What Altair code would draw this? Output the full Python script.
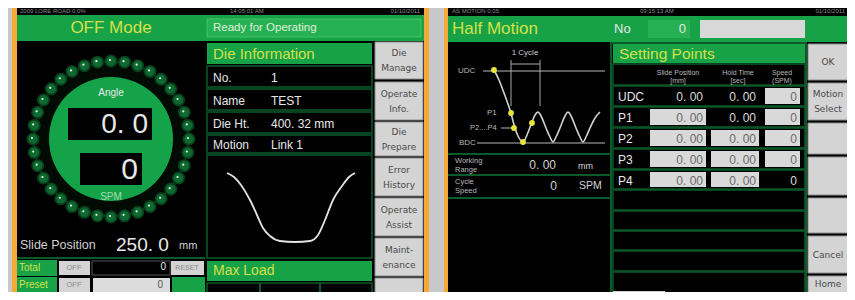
import math
import altair as alt
import pandas as pd

# ---------------- values read from the two screens ----------------
mode_title = "OFF Mode"
status_msg = "Ready for Operating"
angle_label = "Angle"
angle_value = "0. 0"
spm_value = "0"
spm_label = "SPM"
slide_label = "Slide Position"
slide_position_value = "250. 0"
slide_unit = "mm"
total_value = "0"
preset_value = "0"

die_header = "Die Information"
die_info_labels = ["No.", "Name", "Die Ht.", "Motion"]
die_info_values = ["1", "TEST", "400. 32  mm", "Link 1"]
max_load_header = "Max  Load"
left_buttons = ["Die\nManage", "Operate\nInfo.", "Die\nPrepare", "Error\nHistory",
                "Operate\nAssist", "Maint-\nenance", ""]

# die motion curve (screen pixels)
die_curve_x = [227, 234, 241, 250, 257, 263, 270, 280, 295, 310, 318, 325, 333, 342, 349, 355]
die_curve_y = [173, 177, 185, 200, 215, 228, 236, 241, 242, 241, 235, 220, 200, 186, 177, 173]

motion_title = "Half Motion"
motion_no_label = "No"
motion_no = "0"
table_header = "Setting Points"
column_heads = ["Slide Position\n[mm]", "Hold Time\n[sec]", "Speed\n(SPM)"]
point_names = ["UDC", "P1", "P2", "P3", "P4"]
slide_pos = ["0. 00", "0. 00", "0. 00", "0. 00", "0. 00"]
hold_time = ["0. 00", "0. 00", "0. 00", "0. 00", "0. 00"]
speed_spm = ["0", "0", "0", "0", "0"]
slide_boxed = [False, True, True, True, True]
hold_boxed = [False, False, True, True, True]
speed_boxed = [True, True, True, True, False]
right_buttons = ["OK", "Motion\nSelect", "", "", "", "Cancel", "Home"]
working_range = "0. 00"
cycle_speed = "0"

# half-motion wave (screen pixels)
wave_x = [494, 499, 504, 508, 511, 513, 515, 518, 523, 527, 532, 535, 538, 541, 546, 550,
          553, 556, 560, 565, 568, 571, 576, 580, 583, 586, 590, 595, 600]
wave_y = [70, 80, 93, 104, 113, 121, 128, 136, 142, 135, 122, 115, 112, 116, 128, 137,
          142, 137, 128, 116, 112, 116, 128, 137, 142, 137, 128, 118, 112]
marker_x = [494, 511, 514, 523, 532]
marker_y = [70, 113, 128, 142, 123]
wave_labels = ["UDC", "P1", "P2....P4", "BDC"]

ring_dot_angles = list(range(0, 360, 10))

# ---------------- styling ----------------
BG = "#c6c8c9"
ORANGE = "#f6a935"
BLACK = "#000000"
GREEN = "#17a247"
GREEN2 = "#27b155"
DKG = "#0b5b2a"
BTN = "#d4d4d4"
BTN_EDGE = "#8e8e8e"
YEL = "#d4e04a"
WHT = "#e8e8e8"
GRY = "#b8b8b8"
BTX = "#4a4a4a"
SANS = "Liberation Sans"
WIDE = "DejaVu Sans"

rects, rects2, texts, rules = [], [], [], []


def R(lst, x1, y1, x2, y2, fill, stroke="transparent", sw=0):
    lst.append(dict(x=x1, y=y1, x2=x2, y2=y2, fill=fill, stroke=stroke, sw=sw))


def T(x, y, text, color=WHT, size=12, align="left", font=SANS, lh=12):
    # centre multi-line blocks vertically on y
    y = y - lh * text.count("\n") / 2
    texts.append(dict(x=x, y=y, text=text, color=color, size=size, align=align, font=font, lh=lh))


def L(x1, y1, x2, y2, color=DKG, w=2):
    rules.append(dict(x=x1, y=y1, x2=x2, y2=y2, color=color, w=w))


# ---- left screen ----
R(rects, 12, 0, 429, 300, ORANGE)
R(rects, 17, 7, 424, 293, BLACK)
R(rects, 17, 15, 424, 41, GREEN)
R(rects, 207, 19, 421, 37, GREEN2, "#45c068", 1)
T(111, 28, mode_title, YEL, 17, "center")
T(213, 28, status_msg, "#e0eed8", 11.5)
T(20, 11, "2009 LORE ROAD 0.0%", "#8a8a8a", 6)
T(230, 11, "14:05:01 AM", "#8a8a8a", 6)
T(420, 11, "01/10/2011", "#8a8a8a", 6, "right")

R(rects, 207, 43, 372, 64, GREEN)
T(213, 54, die_header, YEL, 15)
die_rows = [(66, 87), (89, 110), (112, 133), (135, 153)]
for (y1, y2), lab, val in zip(die_rows, die_info_labels, die_info_values):
    R(rects, 207, y1, 372, y2, BLACK, DKG, 1.5)
    T(213, (y1 + y2) / 2 + 1, lab, WHT, 12)
    T(271, (y1 + y2) / 2 + 1, val, WHT, 12)
R(rects, 207, 155, 372, 258, BLACK, DKG, 1.5)
R(rects, 207, 261, 372, 281, GREEN)
T(213, 271, max_load_header, YEL, 14)
R(rects, 207, 283, 372, 300, BLACK, DKG, 1.5)
L(260, 283, 260, 300)
L(320, 283, 320, 300)

lb_rows = [(42, 79), (82, 120), (122, 156), (158, 196), (198, 236), (238, 276), (278, 300)]
for (y1, y2), lab in zip(lb_rows, left_buttons):
    R(rects, 375, y1, 423, y2, BTN, BTN_EDGE, 1)
    T(399, (y1 + y2) / 2, lab, BTX, 9, "center", WIDE, 15)

L(17, 258, 205, 258)
R(rects, 17, 260, 57, 276, GREEN)
R(rects, 59, 261, 90, 275, BTN)
R(rects, 92, 261, 170, 275, BLACK, "#555555", 1)
R(rects, 171, 261, 204, 275, BTN)
R(rects, 17, 277, 57, 293, GREEN)
R(rects, 59, 278, 90, 292, BTN)
R(rects, 93, 278, 170, 292, "#dcdcdc")
R(rects, 172, 277, 205, 293, GREEN)
T(19, 268, "Total", YEL, 10)
T(74, 268, "OFF", "#8a8a8a", 7.5, "center")
T(166, 267, total_value, WHT, 10, "right")
T(187, 268, "RESET", "#8a8a8a", 7, "center")
T(19, 285, "Preset", YEL, 10)
T(74, 285, "OFF", "#8a8a8a", 7.5, "center")
T(163, 285, preset_value, "#555555", 10, "right")

# gauge
GX, GY = 111, 139
circles = []
circles.append(dict(x=GX, y=GY, size=math.pi * 88 ** 2, color="#0a3a1a"))
circles.append(dict(x=GX, y=GY, size=math.pi * 86 ** 2, color="#020a04"))
for a in ring_dot_angles:
    rad = math.radians(a)
    cx, cy = GX + 78 * math.cos(rad), GY + 78 * math.sin(rad)
    circles.append(dict(x=cx, y=cy, size=170, color="#08401c"))
    circles.append(dict(x=cx, y=cy, size=90, color="#0e6a30"))
    circles.append(dict(x=cx - 1, y=cy - 1, size=5, color="#e8f0e8"))
circles.append(dict(x=GX, y=GY, size=math.pi * 70 ** 2, color="#14a349"))

R(rects2, 68, 108, 152, 140, BLACK)
R(rects2, 80, 153, 142, 185, BLACK)
T(111, 93, angle_label, WHT, 10, "center")
T(148, 125, angle_value, WHT, 28, "right")
T(138, 170, spm_value, WHT, 30, "right")
T(111, 197, spm_label, "#a4dcae", 10, "center")
T(20, 245, slide_label, "#d0d0d0", 12.5)
T(116, 245, slide_position_value, WHT, 19)
T(179, 246, slide_unit, "#d0d0d0", 11)

# ---- right screen ----
R(rects, 444, 0, 860, 300, ORANGE)
R(rects, 448, 7, 860, 293, BLACK)
R(rects, 448, 16, 860, 42, GREEN)
R(rects, 648, 20, 690, 38, GREEN2)
R(rects, 700, 20, 805, 38, "#d8d8d8")
T(452, 29, motion_title, YEL, 17)
T(614, 29, motion_no_label, WHT, 13)
T(686, 29, motion_no, WHT, 13, "right")
T(452, 11, "AS MOTION 0.05", "#8a8a8a", 6)
T(640, 11, "09:15:13 AM", "#8a8a8a", 6)
T(845, 11, "01/10/2011", "#8a8a8a", 6, "right")

# motion graph decorations
T(525, 53, "1 Cycle", "#cfcfcf", 8, "center")
L(511, 60, 511, 106, "#a8a8a8", 1)
L(540, 60, 540, 106, "#a8a8a8", 1)
L(511, 64, 540, 64, "#a8a8a8", 1)
L(483, 71, 605, 71, "#b8b8b8", 1)
L(477, 143, 605, 143, "#b8b8b8", 1)
L(501, 128, 514, 128, "#b8b8b8", 1)
T(458, 71, wave_labels[0], GRY, 8)
T(487, 113, wave_labels[1], GRY, 8)
T(470, 128, wave_labels[2], GRY, 7.5)
T(459, 143, wave_labels[3], GRY, 8)

L(448, 154, 611, 154)
L(448, 175, 611, 175)
L(448, 198, 611, 198)
T(455, 165, "Working\nRange", GRY, 7.5, lh=9)
T(556, 165, working_range, "#d4d4d4", 12, "right")
T(578, 166, "mm", "#d4d4d4", 9)
T(455, 186, "Cycle\nSpeed", GRY, 7.5, lh=9)
T(557, 186, cycle_speed, "#d4d4d4", 12, "right")
T(579, 186, "SPM", "#d4d4d4", 10.5)

# setting points table
R(rects, 611, 43, 806, 293, BLACK, DKG, 2)
R(rects, 613, 44, 805, 63, GREEN)
T(619, 54, table_header, YEL, 15.5)
R(rects, 613, 64, 805, 85, BLACK, DKG, 1.5)
for cx, head in zip([678, 738, 782], column_heads):
    T(cx, 77, head, GRY, 7, "center", lh=8)
row_spans = [(86, 106), (107, 127), (128, 148), (149, 169), (170, 189)]
for i, (y1, y2) in enumerate(row_spans):
    R(rects, 613, y1, 805, y2, BLACK, DKG, 1.5)
    ym = (y1 + y2) / 2 + 1
    T(618, ym, point_names[i], WHT, 12)
    for (bx1, bx2), val, boxed in [((650, 706), slide_pos[i], slide_boxed[i]),
                                    ((711, 759), hold_time[i], hold_boxed[i]),
                                    ((765, 800), speed_spm[i], speed_boxed[i])]:
        if boxed:
            R(rects, bx1, y1 + 2, bx2, y2 - 2, "#d9d9d9")
            T(bx2 - 3, ym, val, "#6a6a6a", 12, "right")
        else:
            T(bx2 - 3, ym, val, "#dadada", 12, "right")
for y1, y2 in [(190, 210), (211, 230), (231, 250), (251, 271), (272, 293)]:
    R(rects, 613, y1, 805, y2, BLACK, DKG, 1.5)
R(rects, 613, 291, 665, 300, "#d0d0d0")

rb_rows = [(44, 80), (83, 120), (123, 154), (157, 195), (198, 233), (236, 273), (276, 300)]
for (y1, y2), lab in zip(rb_rows, right_buttons):
    R(rects, 808, y1, 860, y2, BTN, BTN_EDGE, 1)
    T(828, min((y1 + y2) / 2, 284), lab, BTX, 9, "center", WIDE, 15)

# ---------------- chart ----------------
X = dict(scale=alt.Scale(domain=[8, 847], nice=False, zero=False), axis=None)
Y = dict(scale=alt.Scale(domain=[292, 8], nice=False, zero=False), axis=None)


def rect_layer(lst):
    return alt.Chart(pd.DataFrame(lst)).mark_rect(clip=True).encode(
        x=alt.X("x:Q", **X), x2="x2:Q",
        y=alt.Y("y:Q", **Y), y2="y2:Q",
        color=alt.Color("fill:N", scale=None),
        stroke=alt.Stroke("stroke:N", scale=None),
        strokeWidth=alt.StrokeWidth("sw:Q", scale=None),
    )


back = rect_layer(rects)
front = rect_layer(rects2)

gauge = alt.Chart(pd.DataFrame(circles).reset_index()).mark_circle(opacity=1, clip=True).encode(
    x=alt.X("x:Q", **X), y=alt.Y("y:Q", **Y),
    size=alt.Size("size:Q", scale=None),
    color=alt.Color("color:N", scale=None),
    order="index:Q",
)

rule_layer = alt.Chart(pd.DataFrame(rules)).mark_rule(clip=True).encode(
    x=alt.X("x:Q", **X), x2="x2:Q", y=alt.Y("y:Q", **Y), y2="y2:Q",
    color=alt.Color("color:N", scale=None),
    strokeWidth=alt.StrokeWidth("w:Q", scale=None),
)

die_df = pd.DataFrame({"x": die_curve_x, "y": die_curve_y, "i": range(len(die_curve_x))})
die_line = alt.Chart(die_df).mark_line(color="#e2e2e2", strokeWidth=1.8, interpolate="monotone").encode(
    x=alt.X("x:Q", **X), y=alt.Y("y:Q", **Y), order="i:Q")

wave_df = pd.DataFrame({"x": wave_x, "y": wave_y, "i": range(len(wave_x))})
wave_line = alt.Chart(wave_df).mark_line(color="#d0d0d0", strokeWidth=1.6, interpolate="monotone").encode(
    x=alt.X("x:Q", **X), y=alt.Y("y:Q", **Y), order="i:Q")

mk_df = pd.DataFrame({"x": marker_x, "y": marker_y})
markers = alt.Chart(mk_df).mark_circle(color="#e8e43c", size=34, opacity=1).encode(
    x=alt.X("x:Q", **X), y=alt.Y("y:Q", **Y))

tdf = pd.DataFrame(texts)
text_layers = []
for (align, font, lh), sub in tdf.groupby(["align", "font", "lh"]):
    text_layers.append(
        alt.Chart(sub).mark_text(align=align, baseline="middle", font=font,
                                 lineHeight=float(lh), lineBreak="\n", clip=True).encode(
            x=alt.X("x:Q", **X), y=alt.Y("y:Q", **Y),
            text="text:N",
            color=alt.Color("color:N", scale=None),
            size=alt.Size("size:Q", scale=None),
        )
    )

chart = alt.layer(back, gauge, front, rule_layer, die_line, wave_line, markers, *text_layers).properties(
    width=839, height=284, background=BG, padding=0,
    autosize=alt.AutoSizeParams(type="none"),
).configure_view(stroke=None)

chart.save("out.html", embed_options={"renderer": "svg", "actions": False})
